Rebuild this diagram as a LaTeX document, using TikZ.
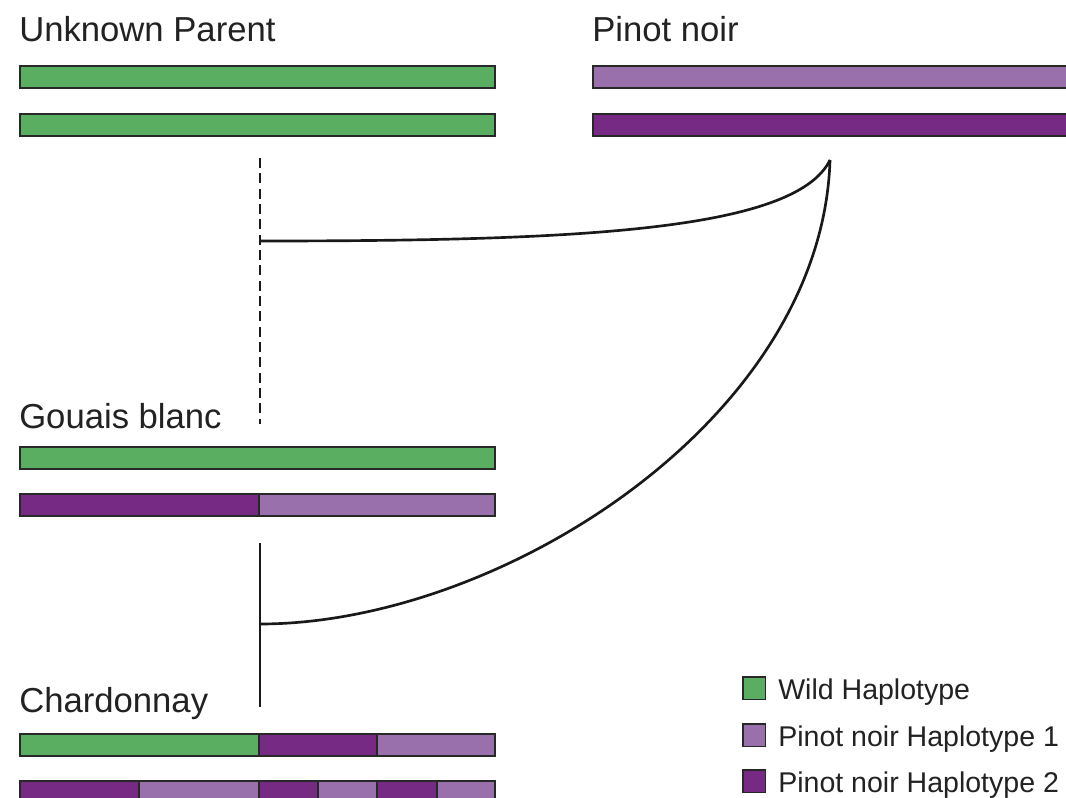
\documentclass[tikz,border=0pt]{standalone}
\usepackage{fontspec}
\setmainfont{Liberation Sans}
\definecolor{wild}{RGB}{90,174,97}
\definecolor{pnone}{RGB}{153,112,171}
\definecolor{pntwo}{RGB}{118,42,131}
\definecolor{edge}{RGB}{40,40,40}
\definecolor{txt}{RGB}{34,34,34}
\tikzset{
  seg/.style={draw=edge, line width=1.6pt},
  title/.style={anchor=base west, inner sep=0pt, text=txt, font=\fontsize{26}{30}\selectfont},
  legtext/.style={anchor=base west, inner sep=0pt, text=txt, font=\fontsize{21.4}{25}\selectfont},
  legbox/.style={draw=edge, line width=1.3pt, minimum size=17pt, inner sep=0pt, anchor=north west},
  link/.style={draw=black!90, line width=2pt},
  dashlink/.style={draw=black!90, line width=2pt, dash pattern=on 7.5pt off 4pt}
}
\begin{document}
\begin{tikzpicture}[x=0.75pt, y=-0.75pt]
\useasboundingbox (0,0) rectangle (1066,798);
\clip (0,0) rectangle (1066,798);
\fill[white] (0,0) rectangle (1066,798);

% titles
\node[title] (tUP) at (19,42) {Unknown Parent};
\node[title] (tPN) at (592,42) {Pinot noir};
\node[title] (tGB) at (19,428) {Gouais blanc};
\node[title] (tCH) at (19,712) {Chardonnay};

% Unknown parent
\draw[seg, fill=wild] (20,66) rectangle (495,88);
\draw[seg, fill=wild] (20,114) rectangle (495,136);
% Pinot noir
\draw[seg, fill=pnone] (593,66) rectangle (1080,88);
\draw[seg, fill=pntwo] (593,114) rectangle (1080,136);
% Gouais blanc
\draw[seg, fill=wild] (20,447) rectangle (495,469);
\draw[seg, fill=pntwo] (20,494) rectangle (259,516);
\draw[seg, fill=pnone] (259,494) rectangle (495,516);
% Chardonnay
\draw[seg, fill=wild] (20,734) rectangle (259,756);
\draw[seg, fill=pntwo] (259,734) rectangle (377,756);
\draw[seg, fill=pnone] (377,734) rectangle (495,756);
\draw[seg, fill=pntwo] (20,781) rectangle (139,803);
\draw[seg, fill=pnone] (139,781) rectangle (259,803);
\draw[seg, fill=pntwo] (259,781) rectangle (318,803);
\draw[seg, fill=pnone] (318,781) rectangle (377,803);
\draw[seg, fill=pntwo] (377,781) rectangle (437,803);
\draw[seg, fill=pnone] (437,781) rectangle (495,803);

% connector coordinates
\coordinate (upbot) at (260,158);
\coordinate (gbtop) at (260,424);
\coordinate (j1) at (260,241);
\coordinate (tip) at (830,160);
\coordinate (gbbot) at (260,543);
\coordinate (chtop) at (260,707);
\coordinate (j2) at (260,624);

\draw[dashlink] (upbot) -- (gbtop);
\draw[link] (j1) .. controls (570,241) and (795,232) .. (tip);
\draw[link] (tip) .. controls (822,420) and (500,624) .. (j2);
\draw[link] (gbbot) -- (chtop);

% legend
\node[legbox, fill=wild] (lw) at (742,676) {};
\node[legbox, fill=pnone] (l1) at (742,723) {};
\node[legbox, fill=pntwo] (l2) at (742,769) {};
\node[legtext] (tw) at (778,699) {Wild Haplotype};
\node[legtext] (t1) at (778,746) {Pinot noir Haplotype 1};
\node[legtext] (t2) at (778,792) {Pinot noir Haplotype 2};
\end{tikzpicture}
\end{document}
